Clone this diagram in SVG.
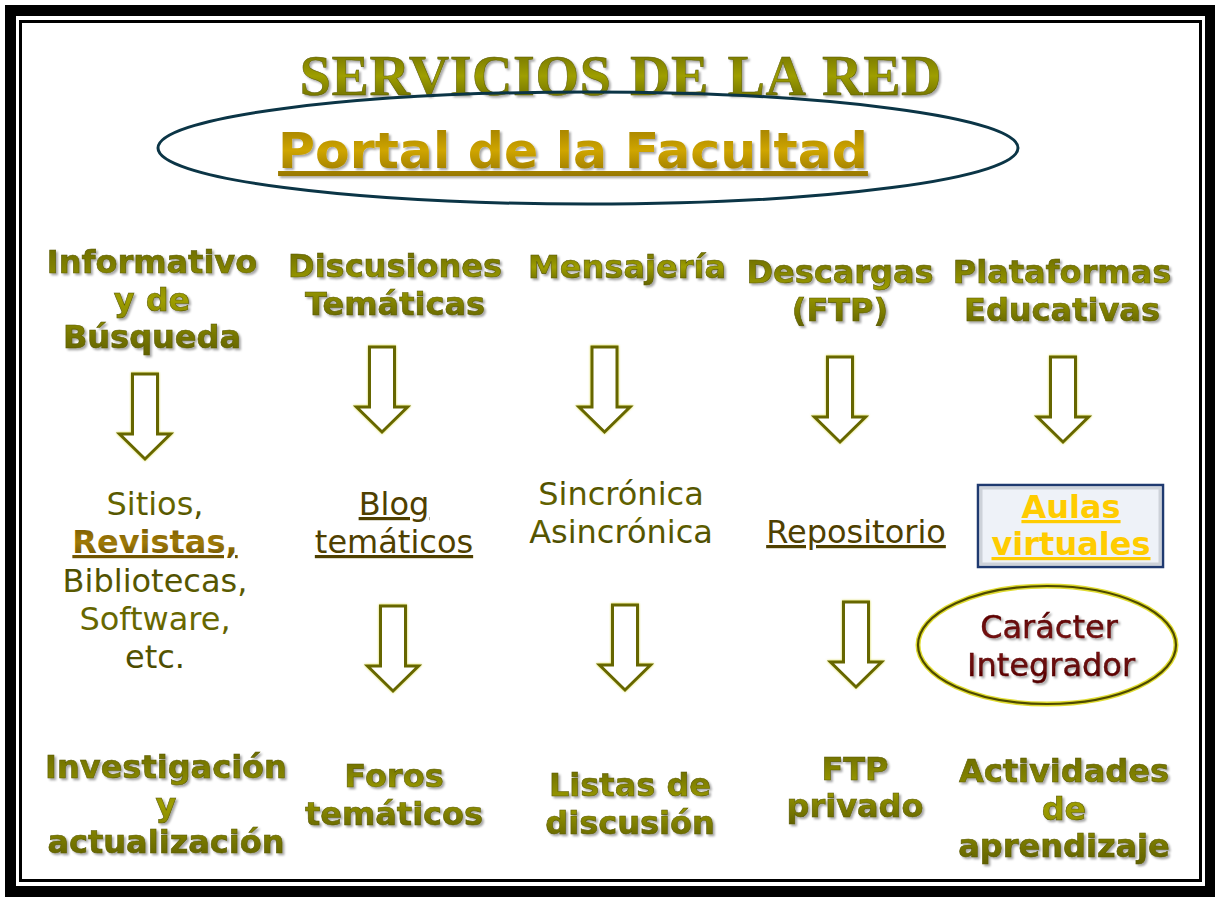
<svg xmlns="http://www.w3.org/2000/svg" xmlns:xlink="http://www.w3.org/1999/xlink" width="1215" height="898" viewBox="0 0 1215 898">
<defs>
<linearGradient id="gOlive" x1="0" y1="0" x2="0" y2="1">
<stop offset="0" stop-color="#6A6A00"/>
<stop offset="0.5" stop-color="#9E9E00"/>
<stop offset="1" stop-color="#606000"/>
</linearGradient>
<linearGradient id="gDark" x1="0" y1="0" x2="0" y2="1">
<stop offset="0" stop-color="#4A4A00"/>
<stop offset="0.5" stop-color="#6A6A00"/>
<stop offset="1" stop-color="#454500"/>
</linearGradient>
<linearGradient id="gGold" x1="0" y1="0" x2="0" y2="1">
<stop offset="0" stop-color="#9A7A00"/>
<stop offset="0.5" stop-color="#CFA500"/>
<stop offset="1" stop-color="#8E7000"/>
</linearGradient>
<linearGradient id="gBrown" x1="0" y1="0" x2="0" y2="1">
<stop offset="0" stop-color="#6E5200"/>
<stop offset="0.5" stop-color="#A07A08"/>
<stop offset="1" stop-color="#634A00"/>
</linearGradient>
<linearGradient id="gMaroon" x1="0" y1="0" x2="0" y2="1">
<stop offset="0" stop-color="#5A0000"/>
<stop offset="0.5" stop-color="#7E1414"/>
<stop offset="1" stop-color="#520000"/>
</linearGradient>
<filter id="shadow" x="-10%" y="-20%" width="120%" height="150%">
<feDropShadow dx="2" dy="2" stdDeviation="1.2" flood-color="#000" flood-opacity="0.35"/>
</filter>
<filter id="glow" x="-10%" y="-10%" width="120%" height="120%">
<feDropShadow dx="0" dy="0" stdDeviation="1" flood-color="#C8C800" flood-opacity="0.8"/>
</filter>
<path id="arr" d="M-12.5,0 H12.5 V60 H25.5 L0,85 L-25.5,60 H-12.5 Z"/>
<style>
.hd{font-family:"DejaVu Sans",Verdana,sans-serif;font-weight:bold;font-size:32px;fill:url(#gOlive);stroke:#5A5A00;stroke-width:0.6px;text-anchor:middle;filter:url(#shadow);}
.md{font-family:"DejaVu Sans",Verdana,sans-serif;font-size:32px;fill:url(#gDark);text-anchor:middle;}
.lk{font-family:"DejaVu Sans",Verdana,sans-serif;font-size:32px;fill:#4F4000;text-anchor:middle;text-decoration:underline;}
.ar{fill:#FFFFFF;stroke:#666600;stroke-width:3;stroke-linejoin:miter;filter:url(#glow);}
</style>
</defs>
<rect x="0" y="0" width="1215" height="898" fill="#FFFFFF"/>
<g id="frame">
<rect x="10.5" y="10.5" width="1200" height="881" fill="none" stroke="#000" stroke-width="11"/>
<rect x="20.5" y="21.5" width="1180" height="859" fill="none" stroke="#000" stroke-width="3"/>
</g>
<g id="title">
<text x="621" y="95" font-family="'Liberation Serif','Times New Roman',serif" font-weight="bold" font-size="56" letter-spacing="0.6" word-spacing="4" fill="url(#gOlive)" stroke="#5A5A00" stroke-width="0.5" text-anchor="middle" filter="url(#shadow)">SERVICIOS DE LA RED</text>
</g>
<g id="portal">
<ellipse cx="588" cy="148" rx="430" ry="56" fill="none" stroke="#0B3546" stroke-width="3"/>
<text x="573" y="168" font-family="'DejaVu Sans',Verdana,sans-serif" font-weight="bold" font-size="50.5" fill="url(#gGold)" text-anchor="middle" text-decoration="underline" filter="url(#shadow)">Portal de la Facultad</text>
</g>
<g id="h1"><text class="hd"><tspan x="152" y="273">Informativo</tspan><tspan x="152" y="311">y de</tspan><tspan x="152" y="348">Búsqueda</tspan></text></g>
<g id="h2"><text class="hd"><tspan x="395" y="277">Discusiones</tspan><tspan x="395" y="315">Temáticas</tspan></text></g>
<g id="h3"><text class="hd"><tspan x="627" y="278">Mensajería</tspan></text></g>
<g id="h4"><text class="hd"><tspan x="840" y="283">Descargas</tspan><tspan x="840" y="321">(FTP)</tspan></text></g>
<g id="h5"><text class="hd"><tspan x="1062" y="283">Plataformas</tspan><tspan x="1062" y="321">Educativas</tspan></text></g>
<g id="m1">
<text class="md"><tspan x="155" y="515">Sitios,</tspan></text>
<text x="155" y="553" font-family="'DejaVu Sans',Verdana,sans-serif" font-weight="bold" font-size="32" fill="url(#gBrown)" text-anchor="middle" text-decoration="underline">Revistas,</text>
<text class="md"><tspan x="155" y="592">Bibliotecas,</tspan><tspan x="155" y="630">Software,</tspan><tspan x="155" y="668">etc.</tspan></text>
</g>
<g id="m2"><text class="lk"><tspan x="394" y="515">Blog</tspan></text><text class="lk"><tspan x="394" y="553">temáticos</tspan></text></g>
<g id="m3"><text class="md"><tspan x="621" y="505">Sincrónica</tspan><tspan x="621" y="543">Asincrónica</tspan></text></g>
<g id="m4"><text class="lk"><tspan x="856" y="543">Repositorio</tspan></text></g>
<g id="aulas">
<rect x="978" y="485" width="185" height="82" fill="#EEF2F8" stroke="#1F3A70" stroke-width="2.5"/>
<rect x="981" y="488" width="179" height="76" fill="none" stroke="#B8BCC4" stroke-width="3" opacity="0.6"/>
<text font-family="'DejaVu Sans',Verdana,sans-serif" font-weight="bold" font-size="32" fill="#FFCC00" text-anchor="middle" text-decoration="underline"><tspan x="1071" y="518">Aulas</tspan></text>
<text font-family="'DejaVu Sans',Verdana,sans-serif" font-weight="bold" font-size="32" fill="#FFCC00" text-anchor="middle" text-decoration="underline"><tspan x="1071" y="555">virtuales</tspan></text>
</g>
<g id="caracter">
<ellipse cx="1047" cy="645" rx="129" ry="59" fill="#FFFFFF" stroke="#E0DC30" stroke-width="5"/>
<ellipse cx="1047" cy="645" rx="129" ry="59" fill="none" stroke="#4E4A00" stroke-width="2.2"/>
<text font-family="'DejaVu Sans',Verdana,sans-serif" font-size="32" fill="url(#gMaroon)" stroke="#500000" stroke-width="0.4" text-anchor="middle" filter="url(#shadow)"><tspan x="1049" y="638">Carácter</tspan><tspan x="1051" y="676">Integrador</tspan></text>
</g>
<g id="b1"><text class="hd"><tspan x="166" y="778">Investigación</tspan><tspan x="166" y="816">y</tspan><tspan x="166" y="853">actualización</tspan></text></g>
<g id="b2"><text class="hd"><tspan x="394" y="787">Foros</tspan><tspan x="394" y="825">temáticos</tspan></text></g>
<g id="b3"><text class="hd"><tspan x="630" y="796">Listas de</tspan><tspan x="630" y="834">discusión</tspan></text></g>
<g id="b4"><text class="hd"><tspan x="855" y="780">FTP</tspan><tspan x="855" y="817">privado</tspan></text></g>
<g id="b5"><text class="hd"><tspan x="1064" y="782">Actividades</tspan><tspan x="1064" y="820">de</tspan><tspan x="1064" y="857">aprendizaje</tspan></text></g>
<g id="connectors">
<use href="#arr" xlink:href="#arr" class="ar" x="145" y="374"/>
<use href="#arr" xlink:href="#arr" class="ar" x="382" y="347"/>
<use href="#arr" xlink:href="#arr" class="ar" x="604.5" y="347"/>
<use href="#arr" xlink:href="#arr" class="ar" x="840" y="357"/>
<use href="#arr" xlink:href="#arr" class="ar" x="1063" y="357"/>
<use href="#arr" xlink:href="#arr" class="ar" x="393" y="606"/>
<use href="#arr" xlink:href="#arr" class="ar" x="625" y="605"/>
<use href="#arr" xlink:href="#arr" class="ar" x="856" y="602"/>
</g>
</svg>
